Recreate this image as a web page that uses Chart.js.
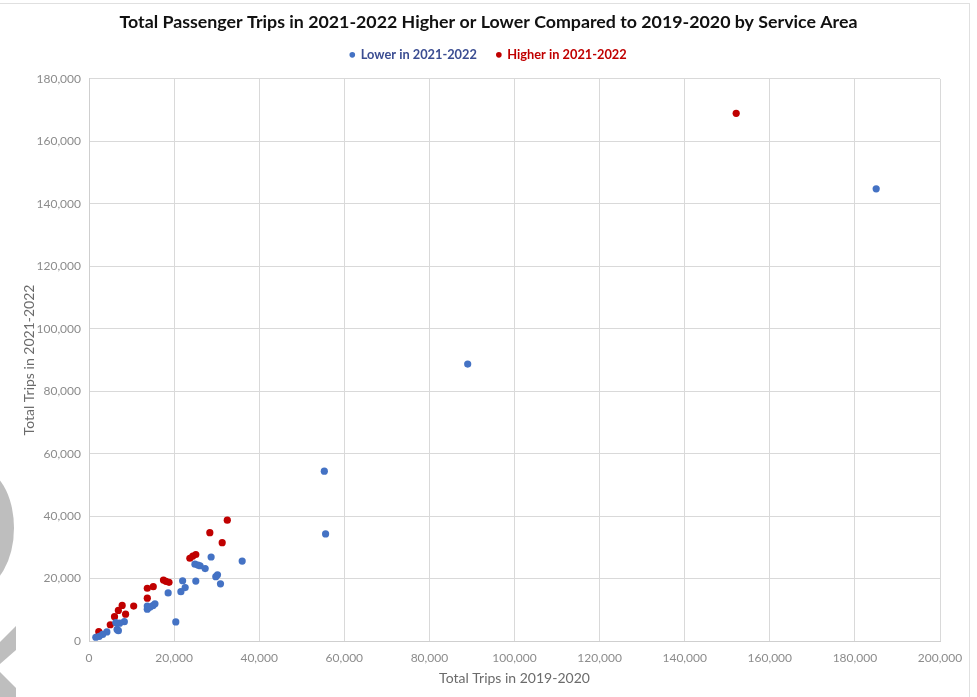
<!DOCTYPE html>
<html>
<head>
<meta charset="utf-8">
<script src="https://cdn.jsdelivr.net/npm/chart.js@4.4.1/dist/chart.umd.min.js"></script>
<style>
  html, body { margin: 0; padding: 0; background: #fff; }
  #wrap { position: relative; width: 977px; height: 697px; overflow: hidden; background: #fff; }
  #c { position: absolute; left: 0; top: 0; }
  #frame { position: absolute; left: -2px; top: 3px; width: 972px; height: 720px;
           border: 1px solid #e0e0e0; box-sizing: border-box; pointer-events: none; }
  #deco { position: absolute; left: 0; top: 0; pointer-events: none; }
</style>
</head>
<body>
<div id="wrap">
  <canvas id="c" width="977" height="697"></canvas>
  <svg id="deco" width="977" height="697">
    <ellipse cx="-22" cy="528" rx="36" ry="60" fill="#bebebe"/>
    <polygon points="0,642 16,626 16,650 0,664" fill="#bebebe"/>
    <polygon points="0,672 16,688 16,697 0,697" fill="#bebebe"/>
  </svg>
  <div id="frame"></div>
</div>
<script>
// Service areas whose trips fell in 2021-2022 (x = 2019-2020 trips, y = 2021-2022 trips)
const lowerTrips2019 = [185000, 89000, 55300, 55600, 36000, 28700, 24900, 25600, 26100, 27300,
                        30200, 29800, 30900, 22000, 25100, 22600, 21600, 18600, 13700, 15000,
                        15500, 13700, 14300, 20400, 8300, 7200, 6300, 6600, 6900, 4200,
                        3200, 2400, 1600];
const lowerTrips2021 = [144800, 88700, 54400, 34300, 25600, 26900, 24600, 24300, 24100, 23200,
                        21200, 20600, 18300, 19300, 19200, 17100, 15800, 15400, 11200, 11300,
                        11900, 10200, 10800, 6100, 6200, 5700, 5900, 3700, 3300, 2900,
                        2100, 1500, 1200];

// Service areas whose trips rose in 2021-2022
const higherTrips2019 = [152100, 32500, 28400, 31300, 23700, 24400, 25100, 17500, 18100, 18800,
                         13700, 15100, 13700, 10500, 7800, 6900, 8600, 6000, 5000, 2300];
const higherTrips2021 = [169000, 38700, 34700, 31500, 26500, 27200, 27700, 19500, 19100, 18800,
                         16900, 17400, 13700, 11200, 11400, 9800, 8600, 7800, 5200, 3000];

const seriesNames = ['Lower in 2021-2022', 'Higher in 2021-2022'];
const xTickValues = [0, 20000, 40000, 60000, 80000, 100000, 120000, 140000, 160000, 180000, 200000];
const yTickValues = [0, 20000, 40000, 60000, 80000, 100000, 120000, 140000, 160000, 180000];

const toPoints = (xs, ys) => xs.map((x, i) => ({ x: x, y: ys[i] }));

const BLUE = '#4472C4';
const RED = '#C00000';
const legendTextColors = ['#3B4D92', '#C00000'];
const FONT = 'Lato, "Open Sans", sans-serif';

new Chart(document.getElementById('c'), {
  type: 'scatter',
  data: {
    datasets: [
      {
        label: seriesNames[0],
        data: toPoints(lowerTrips2019, lowerTrips2021),
        backgroundColor: BLUE,
        borderColor: BLUE,
        borderWidth: 0,
        pointRadius: 3.6,
        pointHoverRadius: 3.6
      },
      {
        label: seriesNames[1],
        data: toPoints(higherTrips2019, higherTrips2021),
        backgroundColor: RED,
        borderColor: RED,
        borderWidth: 0,
        pointRadius: 3.6,
        pointHoverRadius: 3.6
      }
    ]
  },
  options: {
    responsive: false,
    animation: false,
    locale: 'en-US',
    layout: { padding: 0 },
    plugins: {
      title: {
        display: true,
        text: 'Total Passenger Trips in 2021-2022 Higher or Lower Compared to 2019-2020 by Service Area',
        color: '#111',
        font: { family: FONT, size: 17.8, weight: 'bold', lineHeight: 0.7 },
        padding: { top: 16, bottom: 0 }
      },
      subtitle: {
        // blank spacer between the legend and the plot area
        display: true,
        text: '',
        weight: 500,
        font: { size: 7.7, lineHeight: 1 },
        padding: 0
      },
      legend: {
        display: true,
        position: 'top',
        labels: {
          usePointStyle: true,
          pointStyle: 'circle',
          boxWidth: 4,
          boxHeight: 4,
          padding: 20,
          font: { family: FONT, size: 12.8, weight: 'bold' },
          generateLabels(chart) {
            const items = Chart.defaults.plugins.legend.labels.generateLabels(chart);
            items.forEach((it, i) => { it.fontColor = legendTextColors[i]; it.lineWidth = 0; });
            return items;
          }
        }
      },
      tooltip: { enabled: false }
    },
    scales: {
      x: {
        type: 'linear',
        min: 0,
        max: 200000,
        afterBuildTicks(scale) { scale.ticks = xTickValues.map(v => ({ value: v })); },
        afterFit(scale) { scale.height = 56; },
        grid: { color: '#d9d9d9', lineWidth: 1, drawTicks: false },
        border: { color: '#cfcfcf' },
        ticks: { color: '#8c8c8c', padding: 10, maxRotation: 0, font: { family: FONT, size: 12 } },
        title: {
          display: true,
          text: 'Total Trips in 2019-2020',
          color: '#6b6b6b',
          font: { family: FONT, size: 14 },
          padding: { top: 0, bottom: 10 }
        }
      },
      y: {
        type: 'linear',
        min: 0,
        max: 180000,
        afterBuildTicks(scale) { scale.ticks = yTickValues.map(v => ({ value: v })); },
        afterFit(scale) { scale.width = 89; },
        grid: { color: '#d9d9d9', lineWidth: 1, drawTicks: false },
        border: { color: '#cfcfcf' },
        ticks: { color: '#8c8c8c', padding: 8, font: { family: FONT, size: 12 } },
        title: {
          display: true,
          text: 'Total Trips in 2021-2022',
          color: '#6b6b6b',
          font: { family: FONT, size: 14 },
          padding: { top: 21, bottom: 0 }
        }
      },
      // empty right-hand gutter that keeps room for the last x tick label
      gutter: {
        type: 'linear',
        position: 'right',
        display: true,
        min: 0,
        max: 1,
        grid: { display: false, drawTicks: false },
        border: { display: false },
        ticks: { display: false },
        afterFit(scale) { scale.width = 37; }
      }
    }
  }
});
</script>
</body>
</html>
